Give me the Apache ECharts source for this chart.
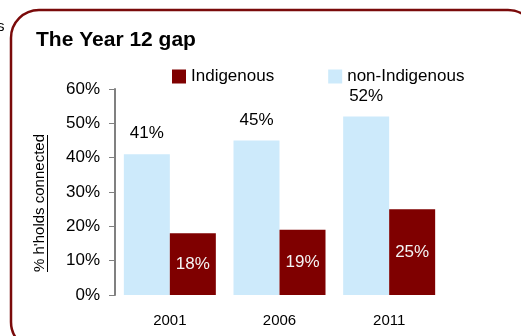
<!DOCTYPE html>
<html>
<head>
<meta charset="utf-8">
<script src="https://cdn.jsdelivr.net/npm/echarts@6/dist/echarts.min.js"></script>
<style>
  html, body { margin: 0; padding: 0; background: #ffffff; }
  #chart { width: 521px; height: 336px; }
</style>
</head>
<body>
<div id="chart"></div>
<script>
// Census years and share of households connected (%)
const years = ['2001', '2006', '2011'];
const nonIndigenous = [41, 45, 52];
const indigenous = [18, 19, 25];
const yTicks = [0, 10, 20, 30, 40, 50, 60];
const yTitle = "% h'holds connected";

const FONT = "'Liberation Sans', Arial, Helvetica, sans-serif";
const MAROON = '#7f0000';
const SKY = '#cdeafb';

const chart = echarts.init(document.getElementById('chart'), null, { renderer: 'canvas' });

chart.setOption({
  animation: false,
  backgroundColor: '#ffffff',
  title: {
    text: 'The Year 12 gap',
    left: 31,
    top: 25,
    textStyle: { fontFamily: FONT, fontSize: 21, fontWeight: 'bold', color: '#000000' }
  },
  legend: {
    left: 167,
    top: 63,
    itemWidth: 14,
    itemHeight: 14,
    itemGap: 54,
    icon: 'rect',
    data: ['Indigenous', 'non-Indigenous'],
    textStyle: { fontFamily: FONT, fontSize: 17, color: '#000000' }
  },
  grid: { left: 115, right: 77, top: 89, bottom: 41, containLabel: false },
  xAxis: {
    type: 'category',
    data: years,
    axisLine: { show: false },
    axisTick: { show: false },
    axisLabel: { margin: 18, fontFamily: FONT, fontSize: 15, color: '#000000' }
  },
  yAxis: {
    type: 'value',
    min: yTicks[0],
    max: yTicks[yTicks.length - 1],
    interval: 10,
    axisLine: { show: true, lineStyle: { color: '#808080', width: 2 } },
    axisTick: { show: true, length: 6, lineStyle: { color: '#808080', width: 1 } },
    splitLine: { show: false },
    axisLabel: {
      margin: 15,
      fontFamily: FONT,
      fontSize: 17,
      color: '#000000',
      formatter: v => v + '%'
    }
  },
  series: [
    {
      name: 'non-Indigenous',
      type: 'bar',
      data: nonIndigenous,
      barWidth: 46,
      barGap: '0%',
      itemStyle: { color: SKY },
      label: {
        show: true,
        position: 'top',
        distance: 12,
        formatter: p => p.value + '%',
        fontFamily: FONT,
        fontSize: 17,
        color: '#000000'
      }
    },
    {
      name: 'Indigenous',
      type: 'bar',
      data: indigenous,
      barWidth: 46,
      barGap: '0%',
      itemStyle: { color: MAROON },
      label: {
        show: true,
        position: 'inside',
        formatter: p => p.value + '%',
        fontFamily: FONT,
        fontSize: 17,
        color: '#f4f4f4'
      }
    }
  ],
  graphic: [
    // rounded panel frame
    {
      type: 'rect',
      z: 100,
      shape: { x: 11, y: 10, width: 525, height: 340, r: 28 },
      style: { fill: null, stroke: '#7a0a0a', lineWidth: 2.5 }
    },
    // vertical axis title, reading bottom to top, with its underline
    {
      type: 'text',
      z: 100,
      x: 40,
      y: 203,
      rotation: Math.PI / 2,
      style: {
        text: yTitle,
        align: 'center',
        verticalAlign: 'middle',
        fontFamily: FONT,
        fontSize: 15,
        fill: '#000000'
      }
    },
    {
      type: 'line',
      z: 100,
      shape: { x1: 47.5, y1: 135, x2: 47.5, y2: 272 },
      style: { stroke: '#000000', lineWidth: 1 }
    },
    // clipped trailing letter from the neighbouring text
    {
      type: 'text',
      z: 100,
      style: { text: 's', x: -3, y: 19, fontFamily: FONT, fontSize: 15, fill: '#000000' }
    }
  ]
});
</script>
</body>
</html>
